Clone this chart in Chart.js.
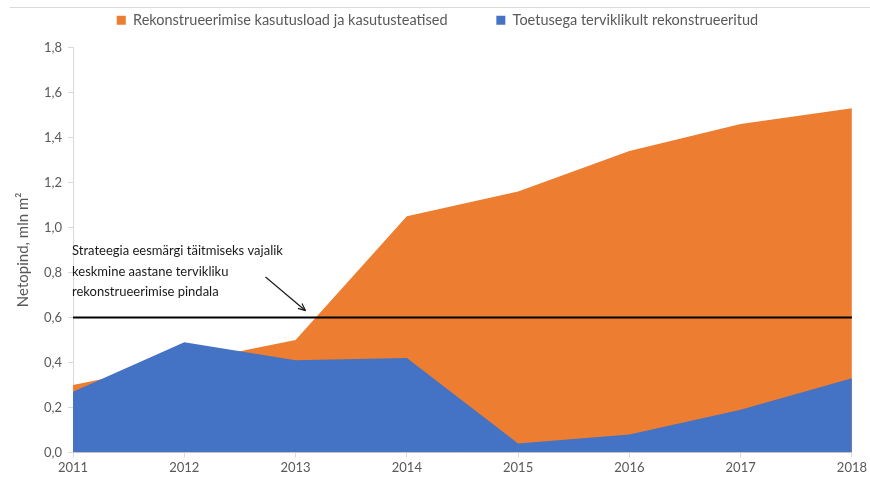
<!DOCTYPE html>
<html>
<head>
<meta charset="utf-8">
<script src="https://cdn.jsdelivr.net/npm/chart.js@4.4.0/dist/chart.umd.min.js"></script>
<style>
  body { margin: 0; background: #fff; }
  #wrap { width: 870px; height: 479px; }
</style>
</head>
<body>
<div id="wrap"><canvas id="areaChart" width="870" height="479"></canvas></div>
<script>
var years = ["2011", "2012", "2013", "2014", "2015", "2016", "2017", "2018"];
var kasutusload = [0.30, 0.40, 0.50, 1.05, 1.16, 1.34, 1.46, 1.53];
var rekonstrueeritud = [0.27, 0.49, 0.41, 0.42, 0.04, 0.08, 0.19, 0.33];
var eesmark = [0.6, 0.6, 0.6, 0.6, 0.6, 0.6, 0.6, 0.6];
var noteLines = ["Strateegia eesmärgi täitmiseks vajalik", "keskmine aastane tervikliku", "rekonstrueerimise pindala"];

var font = "Lato, 'Open Sans', sans-serif";
var grey = "#595959";

// extra room below the legend
var legendGap = {
    id: "legendGap",
    beforeInit: function (chart) {
        var fit = chart.legend.fit;
        chart.legend.fit = function () {
            fit.bind(chart.legend)();
            this.height += 10;
        };
    }
};

var notePlugin = {
    id: "note",
    afterDatasetsDraw: function (chart) {
        var ctx = chart.ctx;
        var x = chart.scales.x;
        var y = chart.scales.y;
        ctx.save();
        ctx.fillStyle = "#1a1a1a";
        ctx.font = "13px " + font;
        ctx.textBaseline = "middle";
        var left = x.getPixelForValue(0) - 1;
        var top = y.getPixelForValue(0.895);
        var lh = y.getPixelForValue(0.805) - top;
        noteLines.forEach(function (t, i) {
            ctx.fillText(t, left, top + i * lh);
        });
        // arrow
        var x1 = x.getPixelForValue(1.73), y1 = y.getPixelForValue(0.78);
        var x2 = x.getPixelForValue(2.09), y2 = y.getPixelForValue(0.63);
        ctx.strokeStyle = "#1a1a1a";
        ctx.lineWidth = 1.2;
        ctx.beginPath();
        ctx.moveTo(x1, y1);
        ctx.lineTo(x2, y2);
        ctx.stroke();
        var a = Math.atan2(y2 - y1, x2 - x1);
        ctx.beginPath();
        ctx.moveTo(x2, y2);
        ctx.lineTo(x2 - 8 * Math.cos(a - 0.4), y2 - 8 * Math.sin(a - 0.4));
        ctx.moveTo(x2, y2);
        ctx.lineTo(x2 - 8 * Math.cos(a + 0.4), y2 - 8 * Math.sin(a + 0.4));
        ctx.stroke();
        // thin frame line at top
        ctx.strokeStyle = "#d9d9d9";
        ctx.lineWidth = 1;
        ctx.beginPath();
        ctx.moveTo(10, 7.5);
        ctx.lineTo(chart.width, 7.5);
        ctx.stroke();
        ctx.restore();
    }
};

new Chart("areaChart", {
    type: "line",
    data: {
        labels: years,
        datasets: [{
            label: "Rekonstrueerimise kasutusload ja kasutusteatised",
            data: kasutusload,
            backgroundColor: "#ed7d31",
            borderColor: "#ed7d31",
            borderWidth: 0,
            pointRadius: 0,
            fill: "origin",
            tension: 0,
            order: 3
        }, {
            label: "Toetusega terviklikult rekonstrueeritud",
            data: rekonstrueeritud,
            backgroundColor: "#4472c4",
            borderColor: "#4472c4",
            borderWidth: 0,
            pointRadius: 0,
            fill: "origin",
            tension: 0,
            order: 2
        }, {
            label: "eesmark",
            data: eesmark,
            borderColor: "#000000",
            borderWidth: 2,
            pointRadius: 0,
            fill: false,
            order: 1
        }]
    },
    plugins: [legendGap, notePlugin],
    options: {
        responsive: false,
        animation: false,
        layout: { padding: { left: 10, right: 5, top: 5, bottom: 0 } },
        plugins: {
            legend: {
                display: true,
                position: "top",
                labels: {
                    generateLabels: function (chart) {
                        var items = Chart.defaults.plugins.legend.labels.generateLabels(chart);
                        items = items.filter(function (it) { return it.datasetIndex < 2; });
                        items.sort(function (a, b) { return a.datasetIndex - b.datasetIndex; });
                        items[0].text = items[0].text + "           ";
                        return items;
                    },
                    boxWidth: 9,
                    boxHeight: 9,
                    padding: 8,
                    color: grey,
                    font: { family: font, size: 14.5 }
                }
            },
            tooltip: { enabled: false }
        },
        scales: {
            x: {
                offset: false,
                grid: { drawOnChartArea: false, color: "#d9d9d9", tickLength: 5 },
                border: { color: "#d9d9d9" },
                ticks: { color: grey, font: { family: font, size: 13 }, maxRotation: 0, padding: 3 }
            },
            y: {
                min: 0,
                max: 1.8,
                grid: { drawOnChartArea: false, color: "#d9d9d9", tickLength: 5 },
                border: { color: "#d9d9d9" },
                ticks: {
                    stepSize: 0.2,
                    color: grey,
                    padding: 6,
                    font: { family: font, size: 13 },
                    callback: function (v) { return v.toFixed(1).replace(".", ","); }
                },
                title: {
                    display: true,
                    text: "Netopind, mln m²",
                    color: grey,
                    font: { family: font, size: 15 },
                    padding: { bottom: 6 }
                }
            }
        }
    }
});
</script>
</body>
</html>
